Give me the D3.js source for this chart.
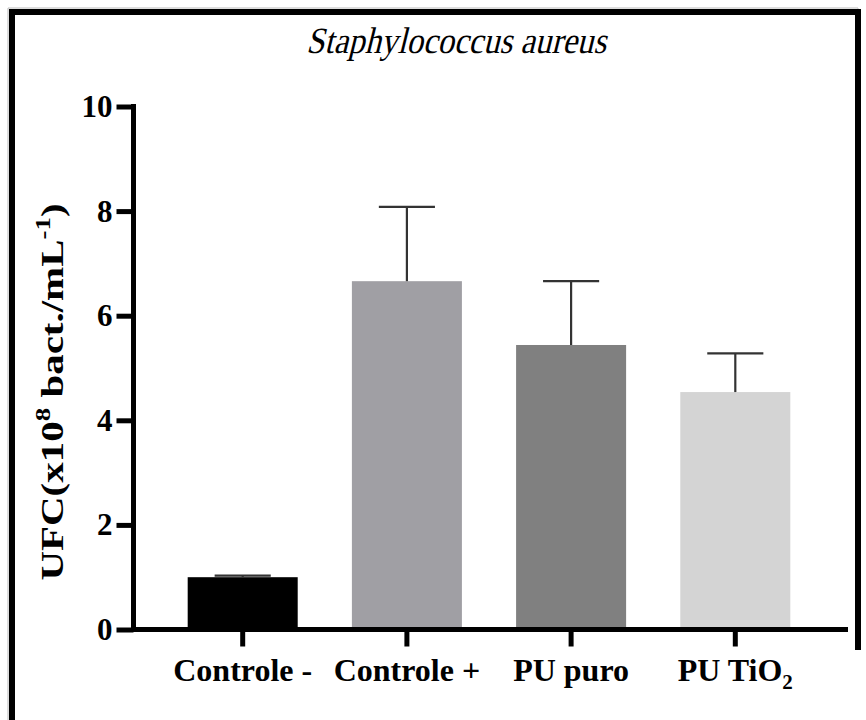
<!DOCTYPE html>
<html>
<head>
<meta charset="utf-8">
<script src="https://cdn.jsdelivr.net/npm/d3@7"></script>
<style>
  html, body { margin: 0; padding: 0; background: #fff; }
  svg { display: block; }
</style>
</head>
<body>
<script>
// Bacterial counts (UFC, x10^8 bact./mL^-1) for each sample group
const categories = ["Controle -", "Controle +", "PU puro", "PU TiO2"];
const means = [1.0, 6.66, 5.44, 4.54];
const sds = [0.03, 1.42, 1.22, 0.74];
const barColors = ["#000000", "#a09fa4", "#808080", "#d4d4d4"];
const yTicks = [0, 2, 4, 6, 8, 10];

const W = 866, H = 720;
const svg = d3.select("body").append("svg").attr("width", W).attr("height", H);

// frame around the figure
svg.append("path")
  .attr("d", "M8,720 V8 H858 V650")
  .attr("fill", "none").attr("stroke", "#bbb").attr("stroke-width", 1);
svg.append("path")
  .attr("d", "M12,720 V12 H858 V650")
  .attr("fill", "none").attr("stroke", "#000").attr("stroke-width", 6);

const x = d3.scaleBand().domain(categories).range([133.5, 844.5])
  .paddingInner(0.33).paddingOuter(0.33);
const y = d3.scaleLinear().domain([0, 10]).range([629.5, 106.5]);

// bars
svg.append("g").selectAll("rect").data(categories).join("rect")
  .attr("x", d => x(d))
  .attr("width", x.bandwidth())
  .attr("y", (d, i) => y(means[i]))
  .attr("height", (d, i) => y(0) - y(means[i]))
  .attr("fill", (d, i) => barColors[i]);

// upper error bars
const eb = svg.append("g").attr("stroke", "#333").attr("stroke-width", 2.2);
categories.forEach((c, i) => {
  const cx = x(c) + x.bandwidth() / 2;
  const capW = x.bandwidth() * 0.51;
  eb.append("line").attr("x1", cx).attr("x2", cx)
    .attr("y1", y(means[i])).attr("y2", y(means[i] + sds[i]));
  eb.append("line").attr("x1", cx - capW / 2).attr("x2", cx + capW / 2)
    .attr("y1", y(means[i] + sds[i])).attr("y2", y(means[i] + sds[i]));
});

const serif = "'Liberation Serif', 'Times New Roman', 'DejaVu Serif', serif";

// y axis
const yAxis = svg.append("g").attr("transform", "translate(133.5,0)")
  .call(d3.axisLeft(y).tickValues(yTicks).tickSize(17).tickPadding(4).tickFormat(d3.format("d")));
yAxis.attr("font-family", null).attr("font-size", null);
yAxis.select(".domain").attr("stroke", "#000").attr("stroke-width", 5)
  .attr("d", `M0,${y(10) - 2.5}V${y(0) + 2.5}`);
yAxis.selectAll(".tick line").attr("stroke", "#000").attr("stroke-width", 5);
yAxis.selectAll(".tick text").attr("fill", "#000")
  .style("font-family", serif).style("font-weight", "bold").style("font-size", "31px");

// x axis
const xAxis = svg.append("g").attr("transform", `translate(0,${y(0)})`)
  .call(d3.axisBottom(x).tickSize(17).tickFormat(""));
xAxis.select(".domain").attr("stroke", "#000").attr("stroke-width", 5)
  .attr("d", `M131,0H848`);
xAxis.selectAll(".tick line").attr("stroke", "#000").attr("stroke-width", 5);

// category labels
const labels = svg.append("g")
  .style("font-family", serif).style("font-weight", "bold").style("font-size", "32px")
  .attr("text-anchor", "middle");
categories.forEach(c => {
  const t = labels.append("text").attr("x", x(c) + x.bandwidth() / 2).attr("y", 681);
  if (c === "PU TiO2") {
    t.append("tspan").text("PU TiO");
    t.append("tspan").attr("dy", 8).style("font-size", "21px").text("2");
  } else {
    t.text(c);
  }
});

// y axis title, stretched along its reading direction
const yt = svg.append("text")
  .attr("transform", "translate(63,392) rotate(-90) scale(1.28,1)")
  .attr("text-anchor", "middle")
  .style("font-family", serif).style("font-weight", "bold").style("font-size", "32px");
yt.append("tspan").text("UFC(x10");
yt.append("tspan").attr("dy", -13).style("font-size", "21px").text("8");
yt.append("tspan").attr("dy", 13).text(" bact./mL");
yt.append("tspan").attr("dy", -13).style("font-size", "21px").text("-1");
yt.append("tspan").attr("dy", 13).text(")");

// title, slanted serif
svg.append("g").attr("transform", "translate(456,53) skewX(-14)")
  .append("text")
  .attr("x", 0).attr("y", 0).attr("text-anchor", "middle")
  .attr("textLength", 300).attr("lengthAdjust", "spacingAndGlyphs")
  .style("font-family", serif).style("font-size", "37px")
  .text("Staphylococcus aureus");
</script>
</body>
</html>
